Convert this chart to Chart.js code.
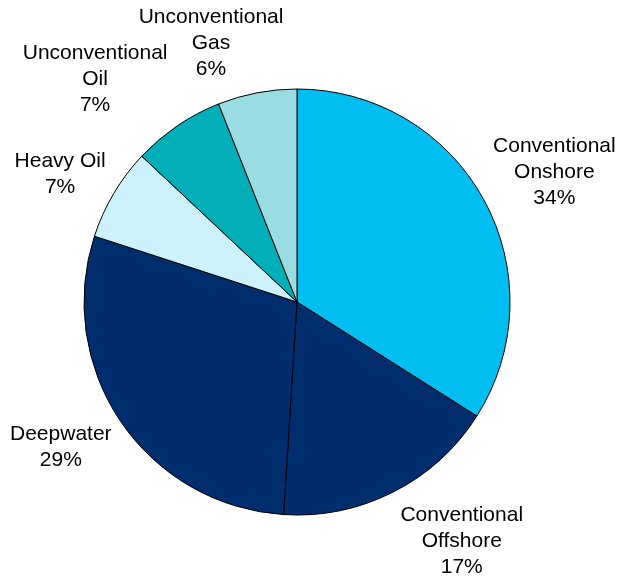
<!DOCTYPE html>
<html>
<head>
<meta charset="utf-8">
<script src="https://cdn.jsdelivr.net/npm/chart.js@4.4.1/dist/chart.umd.min.js"></script>
<style>
  html, body { margin: 0; padding: 0; background: #fff; }
  #wrap { width: 619px; height: 577px; }
</style>
</head>
<body>
<div id="wrap"><canvas id="pie" width="619" height="577"></canvas></div>
<script>
const categories = ['Conventional Onshore', 'Conventional Offshore', 'Deepwater', 'Heavy Oil', 'Unconventional Oil', 'Unconventional Gas'];
const shares = [34, 17, 29, 7, 7, 6];
// label text split into lines, last line is the share
const labelLines = [
    ['Conventional', 'Onshore'],
    ['Conventional', 'Offshore'],
    ['Deepwater'],
    ['Heavy Oil'],
    ['Unconventional', 'Oil'],
    ['Unconventional', 'Gas']
];
const sliceColors = ['#00bef2', '#002d6d', '#002d6d', '#ccf1fa', '#00afb8', '#99dce2'];

// small shifts from the default outside-end anchor so labels sit clear of the pie
const labelNudge = [[5, 9], [34, -17], [2, -17], [11, 19], [-40, 15], [-32, 24]];

const outsideLabels = {
    id: 'outsideLabels',
    afterDatasetsDraw(chart) {
        const c = chart.ctx;
        const arcs = chart.getDatasetMeta(0).data;
        c.save();
        c.font = '21px "Liberation Sans", Arial, sans-serif';
        c.fillStyle = '#000';
        c.textAlign = 'center';
        c.textBaseline = 'middle';
        const lh = 26;
        arcs.forEach((arc, i) => {
            const p = arc.getProps(['x', 'y', 'startAngle', 'endAngle', 'outerRadius'], true);
            const mid = (p.startAngle + p.endAngle) / 2;
            const d = p.outerRadius + 75;
            const ax = p.x + Math.cos(mid) * d + labelNudge[i][0];
            const ay = p.y + Math.sin(mid) * d + labelNudge[i][1];
            const lines = labelLines[i].concat([shares[i] + '%']);
            const top = ay - (lines.length - 1) * lh / 2;
            lines.forEach((t, k) => c.fillText(t, ax, top + k * lh));
        });
        c.restore();
    }
};

new Chart(document.getElementById('pie'), {
    type: 'pie',
    data: {
        labels: categories,
        datasets: [{
            data: shares,
            backgroundColor: sliceColors,
            borderColor: '#000',
            borderWidth: 1
        }]
    },
    options: {
        responsive: false,
        animation: false,
        radius: 213,
        layout: { padding: { left: 0, right: 25, top: 27, bottom: 0 } },
        plugins: {
            legend: { display: false },
            tooltip: { enabled: false }
        }
    },
    plugins: [outsideLabels]
});
</script>
</body>
</html>
